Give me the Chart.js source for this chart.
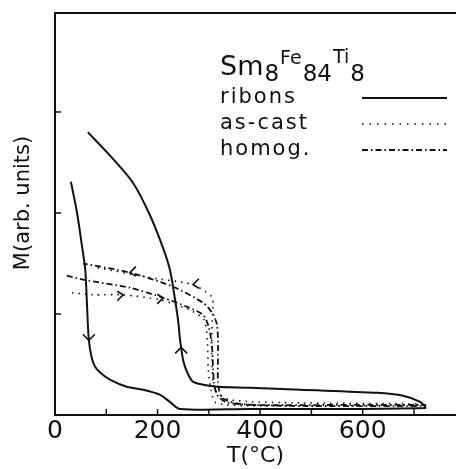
<!DOCTYPE html>
<html>
<head>
<meta charset="utf-8">
<script src="https://cdn.jsdelivr.net/npm/chart.js@4.4.0/dist/chart.umd.min.js"></script>
<style>
  html, body { margin: 0; background: #fff; }
  #wrap { width: 456px; height: 469px; }
</style>
</head>
<body>
<div id="wrap"><canvas id="chart"></canvas></div>
<script>
// ribbons: heating from 30°C up to ~720°C, then cooling back
const ribbonT = [31, 43, 53, 59, 62, 66, 72, 78, 88, 107, 140, 172, 205, 224, 244, 380, 576, 722,
  722, 712, 679, 628, 478, 380, 316, 289, 269, 258, 250, 244, 240, 232, 224, 211, 185, 152, 107, 64];
const ribbonM = [2.31, 2.0, 1.66, 1.44, 1.14, 0.74, 0.56, 0.48, 0.42, 0.35, 0.28, 0.25, 0.2, 0.13, 0.06, 0.06, 0.06, 0.07,
  0.08, 0.13, 0.19, 0.22, 0.25, 0.27, 0.28, 0.3, 0.33, 0.42, 0.54, 0.74, 0.94, 1.21, 1.44, 1.65, 1.98, 2.3, 2.57, 2.8];

// as-cast
const castT = [33, 74, 133, 205, 263, 291, 297, 299, 304, 314, 400, 722,
  722, 478, 341, 312, 306, 306, 308, 306, 269, 185, 82];
const castM = [1.21, 1.19, 1.19, 1.14, 1.04, 0.94, 0.74, 0.45, 0.25, 0.12, 0.09, 0.1,
  0.11, 0.12, 0.15, 0.25, 0.54, 0.84, 1.09, 1.17, 1.29, 1.36, 1.46];

// homogenized
const homogT = [23, 55, 146, 211, 258, 289, 300, 306, 308, 310, 316, 332, 380, 576, 722,
  722, 478, 361, 326, 318, 318, 316, 308, 289, 230, 146, 55];
const homogM = [1.38, 1.34, 1.26, 1.16, 1.07, 0.99, 0.87, 0.69, 0.5, 0.32, 0.2, 0.13, 0.1, 0.1, 0.1,
  0.09, 0.09, 0.11, 0.17, 0.32, 0.69, 0.89, 1.0, 1.11, 1.27, 1.41, 1.5];

// arrow heads on the curves: [T, M, direction]
const arrows = [[66, 0.74, 'down'], [246, 0.67, 'up'], [146, 1.41, 'left'], [211, 1.16, 'right'],
  [133, 1.19, 'right'], [269, 1.29, 'left']];

const xTicks = [100, 200, 300, 400, 500, 600, 700];
const yTicks = [1, 2, 3];

const toPoints = (xs, ys) => xs.map((v, i) => ({ x: v, y: ys[i] }));

const FONT = "'DejaVu Sans', sans-serif";
const INK = '#111';

// inward ticks, top frame, y title, legend, formula and arrows
const overlay = {
  id: 'overlay',
  afterDraw(chart) {
    const { ctx, chartArea: a, scales: { x, y } } = chart;
    ctx.save();
    ctx.strokeStyle = INK;
    ctx.fillStyle = INK;

    ctx.lineWidth = 2;
    ctx.beginPath();
    ctx.moveTo(a.left, a.top);
    ctx.lineTo(a.right, a.top);
    ctx.stroke();

    ctx.lineWidth = 1.5;
    xTicks.forEach((v) => {
      const px = x.getPixelForValue(v);
      ctx.beginPath();
      ctx.moveTo(px, a.bottom);
      ctx.lineTo(px, a.bottom - 6);
      ctx.stroke();
    });
    yTicks.forEach((v) => {
      const py = y.getPixelForValue(v);
      ctx.beginPath();
      ctx.moveTo(a.left, py);
      ctx.lineTo(a.left + 6, py);
      ctx.stroke();
    });

    // arrow heads
    ctx.lineWidth = 1.6;
    arrows.forEach(([t, m, dir]) => {
      const px = x.getPixelForValue(t);
      const py = y.getPixelForValue(m);
      const s = 6;
      ctx.beginPath();
      if (dir === 'down') { ctx.moveTo(px - s, py - s); ctx.lineTo(px, py); ctx.lineTo(px + s, py - s); }
      if (dir === 'up') { ctx.moveTo(px - s, py + s); ctx.lineTo(px, py); ctx.lineTo(px + s, py + s); }
      if (dir === 'left') { ctx.moveTo(px + s, py - s); ctx.lineTo(px, py); ctx.lineTo(px + s, py + s * 0.6); }
      if (dir === 'right') { ctx.moveTo(px - s, py - s * 0.6); ctx.lineTo(px, py); ctx.lineTo(px - s, py + s); }
      ctx.stroke();
    });

    // y title
    ctx.save();
    ctx.translate(24, 203);
    ctx.rotate(-Math.PI / 2);
    ctx.font = `21px ${FONT}`;
    ctx.textAlign = 'center';
    ctx.textBaseline = 'middle';
    ctx.fillText('M(arb. units)', 0, 0);
    ctx.restore();

    // formula Sm8Fe84Ti8
    ctx.textBaseline = 'alphabetic';
    let cx = 220;
    const parts = [['Sm', 27, 75], ['8', 23, 81], ['Fe', 19, 64], ['84', 23, 81], ['Ti', 19, 63], ['8', 23, 81]];
    parts.forEach(([txt, size, base]) => {
      ctx.font = `${size}px ${FONT}`;
      ctx.fillText(txt, cx, base);
      cx += ctx.measureText(txt).width + 1;
    });

    // legend
    ctx.font = `21px ${FONT}`;
    ctx.letterSpacing = '2px';
    const rows = [['ribons', 103, []], ['as-cast', 129, [1.5, 6]], ['homog.', 155, [6, 3, 1.5, 3]]];
    rows.forEach(([label, base, dash]) => {
      ctx.fillText(label, 220, base);
      ctx.setLineDash(dash);
      ctx.lineWidth = dash.length === 2 ? 1.6 : 1.8;
      ctx.beginPath();
      ctx.moveTo(362, base - 5);
      ctx.lineTo(447, base - 5);
      ctx.stroke();
    });
    ctx.restore();
  },
};

new Chart(document.getElementById('chart'), {
  type: 'scatter',
  data: {
    datasets: [
      { label: 'ribons', data: toPoints(ribbonT, ribbonM), borderColor: INK, borderWidth: 2, tension: 0.3 },
      { label: 'as-cast', data: toPoints(castT, castM), borderColor: INK, borderWidth: 1.6, borderDash: [1.5, 5], tension: 0.25 },
      { label: 'homog.', data: toPoints(homogT, homogM), borderColor: INK, borderWidth: 1.8, borderDash: [6, 3, 1.5, 3], tension: 0.25 },
    ],
  },
  options: {
    responsive: true,
    maintainAspectRatio: false,
    animation: false,
    showLine: true,
    elements: { point: { radius: 0 } },
    layout: { padding: { top: 13, right: 0, left: 0, bottom: 0 } },
    plugins: { legend: { display: false }, tooltip: { enabled: false } },
    scales: {
      x: {
        type: 'linear',
        min: 0,
        max: 782,
        grid: { display: false, drawTicks: false },
        border: { display: true, color: INK, width: 2 },
        ticks: {
          stepSize: 100,
          includeBounds: false,
          autoSkip: false,
          maxRotation: 0,
          padding: 1,
          color: INK,
          font: { family: FONT, size: 25 },
          callback: (v) => (v % 200 === 0 ? v : ''),
        },
        title: { display: true, text: 'T(°C)', color: INK, font: { family: FONT, size: 22 }, padding: 0 },
        afterFit: (s) => { s.height = 54; },
      },
      y: {
        min: 0,
        max: 3.98,
        grid: { display: false, drawTicks: false },
        border: { display: true, color: INK, width: 2 },
        ticks: { display: false, stepSize: 1 },
        afterFit: (s) => { s.width = 55; },
      },
    },
  },
  plugins: [overlay],
});
</script>
</body>
</html>
